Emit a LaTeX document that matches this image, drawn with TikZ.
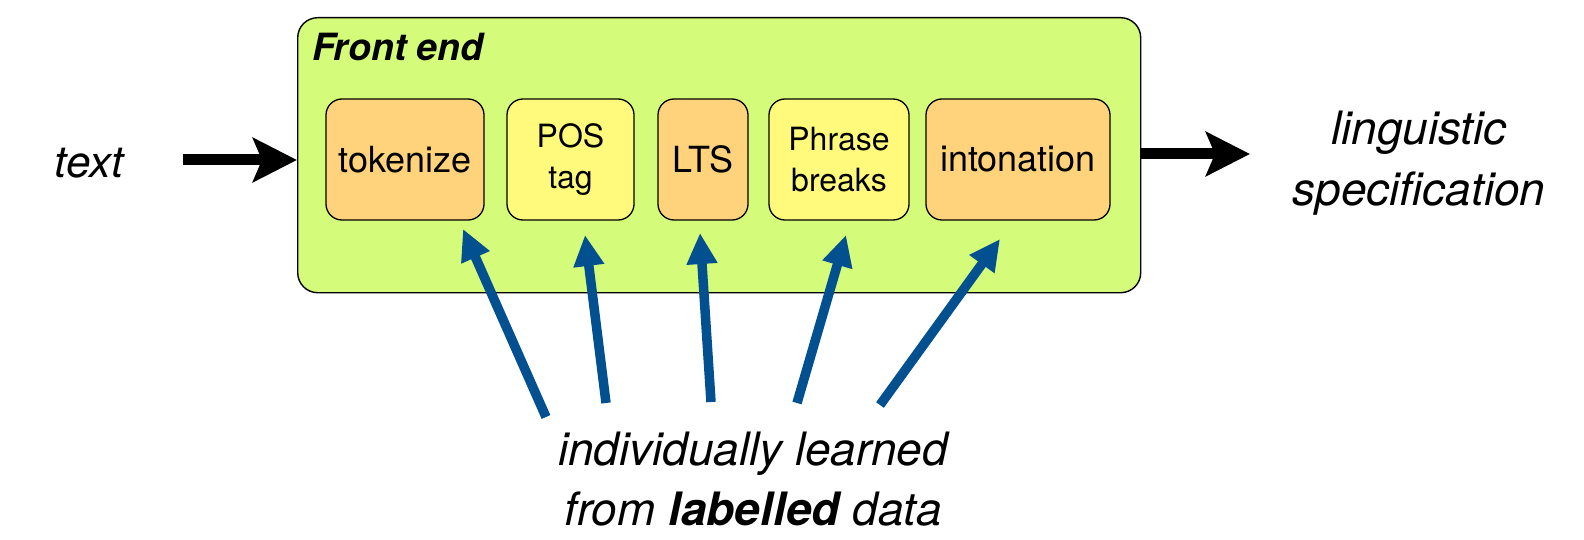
\documentclass[tikz,border=0pt]{standalone}
\usepackage{fontspec}
\setmainfont{TeX Gyre Heros}
\usetikzlibrary{arrows.meta,calc}
\definecolor{feGreen}{HTML}{D5FB7B}
\definecolor{boxOrange}{HTML}{FFD37C}
\definecolor{boxYellow}{HTML}{FFFA7C}
\definecolor{learnBlue}{HTML}{02508F}
\begin{document}
\begin{tikzpicture}[x=1pt,y=-1pt,
  frontend/.style={draw=black, line width=1.4pt, fill=feGreen, rounded corners=20pt, inner sep=0pt},
  stage/.style={draw=black, line width=1.3pt, rounded corners=16pt, minimum height=121pt, inner sep=0pt, align=center, font=\fontsize{36}{41}\selectfont},
  stagetwo/.style={stage, font=\fontsize{32}{41}\selectfont},
  bigtext/.style={font=\fontsize{46}{60}\selectfont\itshape, align=center, inner sep=0pt},
  flow/.style={line width=11pt, -{Stealth[length=44pt, width=44pt, inset=9pt]}},
  learn/.style={draw=learnBlue, line width=9.5pt, -{Triangle[length=31pt, width=29pt]}, color=learnBlue},
  title/.style={font=\fontsize{37.5}{44}\selectfont\bfseries\itshape, inner sep=0pt, anchor=base west}
]
\useasboundingbox (0,0) rectangle (1584,540);

% front-end container
\node[frontend, minimum width=843pt, minimum height=275pt, anchor=north west] (fe) at (297,17) {};
\node[title] (fetitle) at (312,61) {Front end};

% stages
\node[stage, fill=boxOrange, minimum width=158pt] (tok) at (405,159.5) {tokenize};
\node[stagetwo, fill=boxYellow, minimum width=127pt] (pos) at (570.5,159.5) {POS\\tag};
\node[stage, fill=boxOrange, minimum width=90pt] (lts) at (703,159.5) {LTS};
\node[stagetwo, fill=boxYellow, minimum width=140pt] (phr) at (839,159.5) {Phrase\\breaks};
\node[stage, fill=boxOrange, minimum width=184pt] (into) at (1018,159.5) {intonation};

% input / output texts
\node[bigtext, font=\fontsize{44}{60}\selectfont\itshape, anchor=base] (txt) at (89,178) {text};
\node[bigtext, anchor=base] (ling) at (1419,145) {linguistic};
\node[bigtext, anchor=base] (spec) at (1419,205) {specification};

\coordinate (inL) at (183,160);
\coordinate (outR) at (1250,154);
\draw[flow] (inL) -- (fe.west |- inL);
\draw[flow] (fe.east |- outR) -- (outR);

% bottom note
\node[bigtext, anchor=base] (note1) at (753,465) {individually learned};
\node[bigtext, anchor=base] (note2) at (753,525) {from \textbf{labelled} data};

% learning arrows
\coordinate (t1) at (546,417); \coordinate (h1) at (463,229);
\coordinate (t2) at (606,403); \coordinate (h2) at (585,235);
\coordinate (t3) at (711,402); \coordinate (h3) at (700,233);
\coordinate (t4) at (797,403); \coordinate (h4) at (846,235);
\coordinate (t5) at (880,405); \coordinate (h5) at (1000,239);
\foreach \i in {1,...,5} {
  \draw[learn] (t\i) -- (h\i);
}
\end{tikzpicture}
\end{document}
